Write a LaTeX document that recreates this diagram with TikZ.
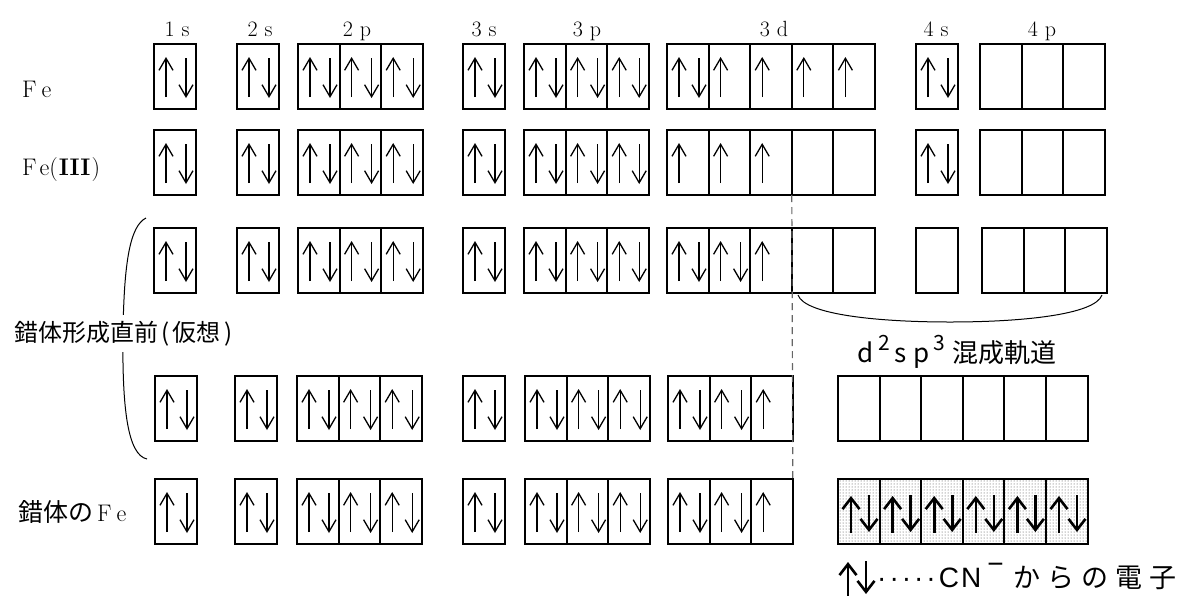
\documentclass[tikz,border=0pt]{standalone}
\usepackage{fontspec}
\newfontfamily\jp{Noto Sans CJK JP}
\newfontfamily\lsans{Liberation Sans}
\usetikzlibrary{arrows.meta,patterns}
\newcommand\orbUp[1]{\draw[earrow] ([xshift=12pt,yshift=-53pt]#1.north west) -- ([xshift=12pt,yshift=-13pt]#1.north west);}
\newcommand\orbDn[1]{\draw[earrow] ([xshift=32pt,yshift=-14pt]#1.north west) -- ([xshift=32pt,yshift=-54pt]#1.north west);}
\newcommand\orbBold[1]{\draw[barrow] ([xshift=13pt,yshift=-54pt]#1.north west) -- ([xshift=13pt,yshift=-17pt]#1.north west);
  \draw[barrow] ([xshift=31pt,yshift=-16pt]#1.north west) -- ([xshift=31pt,yshift=-53pt]#1.north west);}
\newcommand\orbFill[2]{\ifcase#2\relax\or\orbUp{#1}\or\orbUp{#1}\orbDn{#1}\or\orbBold{#1}\fi}
\newcommand\orbRow[5]{%
  \foreach \t [count=\i] in {#5}{%
    \node[#4] (#1-\i) at ({#2+(\i-1)*41.6},#3) {};
    \orbFill{#1-\i}{\t}}}
\begin{document}
\begin{tikzpicture}[x=1pt,y=-1pt,
  obox/.style={draw,line width=1.9pt,minimum width=41.6pt,minimum height=65pt,inner sep=0pt,outer sep=0pt,anchor=north west},
  shbox/.style={obox,pattern=dots,pattern color=black!75},
  earrow/.style={line width=1.3pt,-{Straight Barb[length=12pt,width=14pt]}},
  barrow/.style={line width=2.6pt,-{Straight Barb[length=11pt,width=17pt]}},
  orblbl/.style={font=\fontsize{22}{22}\selectfont,anchor=base,inner sep=0pt},
  rowlbl/.style={font=\fontsize{24}{24}\selectfont,anchor=base west,inner sep=0pt},
  thin curve/.style={line width=1pt}]
\useasboundingbox (0,0) rectangle (1195,595);
% orbital labels
\node[orblbl] (t1s) at (177,36) {1\kern7pt s};
\node[orblbl] (t2s) at (260,36) {2\kern7pt s};
\node[orblbl] (t2p) at (357,36) {2\kern7pt p};
\node[orblbl] (t3s) at (484,36) {3\kern7pt s};
\node[orblbl] (t3p) at (587,36) {3\kern7pt p};
\node[orblbl] (t3d) at (774,36) {3\kern7pt d};
\node[orblbl] (t4s) at (936,36) {4\kern7pt s};
\node[orblbl] (t4p) at (1042,36) {4\kern7pt p};
% row 1 : Fe
\orbRow{Ao1s}{154}{44}{obox}{2}
\orbRow{Ao2s}{237}{44}{obox}{2}
\orbRow{Ao2p}{298}{44}{obox}{2,2,2}
\orbRow{Ao3s}{463}{44}{obox}{2}
\orbRow{Ao3p}{524}{44}{obox}{2,2,2}
\orbRow{Ao3d}{667}{44}{obox}{2,1,1,1,1}
\orbRow{Ao4s}{916}{44}{obox}{2}
\orbRow{Ao4p}{980}{44}{obox}{0,0,0}
% row 2 : Fe(III)
\orbRow{Bo1s}{154}{130}{obox}{2}
\orbRow{Bo2s}{237}{130}{obox}{2}
\orbRow{Bo2p}{298}{130}{obox}{2,2,2}
\orbRow{Bo3s}{463}{130}{obox}{2}
\orbRow{Bo3p}{524}{130}{obox}{2,2,2}
\orbRow{Bo3d}{667}{130}{obox}{1,1,1,0,0}
\orbRow{Bo4s}{916}{130}{obox}{2}
\orbRow{Bo4p}{980}{130}{obox}{0,0,0}
% row 3
\orbRow{Co1s}{154}{228}{obox}{2}
\orbRow{Co2s}{237}{228}{obox}{2}
\orbRow{Co2p}{298}{228}{obox}{2,2,2}
\orbRow{Co3s}{463}{228}{obox}{2}
\orbRow{Co3p}{524}{228}{obox}{2,2,2}
\orbRow{Co3d}{667}{228}{obox}{2,2,1,0,0}
\orbRow{Co4s}{916}{228}{obox}{0}
\orbRow{Co4p}{982}{228}{obox}{0,0,0}
% row 4
\orbRow{Do1s}{155}{376}{obox}{2}
\orbRow{Do2s}{235}{376}{obox}{2}
\orbRow{Do2p}{297}{376}{obox}{2,2,2}
\orbRow{Do3s}{463}{376}{obox}{2}
\orbRow{Do3p}{525}{376}{obox}{2,2,2}
\orbRow{Do3d}{668}{376}{obox}{2,2,1}
\orbRow{Dohy}{838}{376}{obox}{0,0,0,0,0,0}
% row 5
\orbRow{Eo1s}{155}{479}{obox}{2}
\orbRow{Eo2s}{235}{479}{obox}{2}
\orbRow{Eo2p}{297}{479}{obox}{2,2,2}
\orbRow{Eo3s}{463}{479}{obox}{2}
\orbRow{Eo3p}{525}{479}{obox}{2,2,2}
\orbRow{Eo3d}{668}{479}{obox}{2,2,1}
\orbRow{Eohy}{838}{479}{shbox}{3,3,3,3,3,3}
% dashed divider
\draw[line width=1.2pt,black!60,dash pattern=on 7pt off 5pt] (Bo3d-3.south east) -- (Eo3d-3.north east);
% brace under hybrid orbitals
\coordinate (brL) at (798,295);
\coordinate (brM) at (950,322);
\coordinate (brR) at (1102,295);
\draw[thin curve] (brL) .. controls (805,315) and (880,322) .. (brM) .. controls (1020,322) and (1095,315) .. (brR);
% left parenthesis
\coordinate (paT) at (146,218);
\coordinate (paM) at (123,333);
\coordinate (paB) at (147,459);
\draw[thin curve] (paT) .. controls (130,226) and (124,262) .. (paM) .. controls (122,410) and (128,455) .. (paB);
% row labels
\node[rowlbl] (lFe) at (22,97) {F\kern5pt e};
\node[rowlbl] (lFe3) at (22,175) {F\kern3pt e(\kern1pt\textbf{III}\kern1pt)};
\node[rowlbl,font=\jp\fontsize{24}{24}\selectfont,fill=white,inner ysep=6pt] (lPre) at (14,341) {錯体形成直前\kern3pt(\kern3pt仮想\kern4pt)};
\node[rowlbl] (lCx) at (18,521) {{\jp\fontsize{25}{25}\selectfont 錯体の}\kern4pt F\kern5pt e};
% hybrid label
\node[anchor=base west,inner sep=0pt,font=\jp\fontsize{26}{26}\selectfont] (lHyb) at (857,362)
  {d\kern5pt\raisebox{12pt}{\fontsize{21}{21}\selectfont 2}\kern5pt s\kern6pt p\kern4pt\raisebox{12pt}{\fontsize{21}{21}\selectfont 3}\kern8pt 混成軌道};
% legend
\coordinate (lgUa) at (848,598);
\coordinate (lgUb) at (848,562);
\coordinate (lgDa) at (866,561);
\coordinate (lgDb) at (866,594);
\draw[barrow] (lgUa) -- (lgUb);
\draw[barrow] (lgDa) -- (lgDb);
\node[anchor=base west,inner sep=0pt,font=\lsans\fontsize{28}{28}\selectfont] (lLeg) at (877,587)
  {·\kern3pt·\kern3pt·\kern3pt·\kern3pt·\kern3pt C\kern2pt N\kern6pt\raisebox{14pt}{−}\kern10pt{\jp\fontsize{27}{27}\selectfont か\kern7ptら\kern7ptの\kern7pt電\kern7pt子}};
\end{tikzpicture}
\end{document}
